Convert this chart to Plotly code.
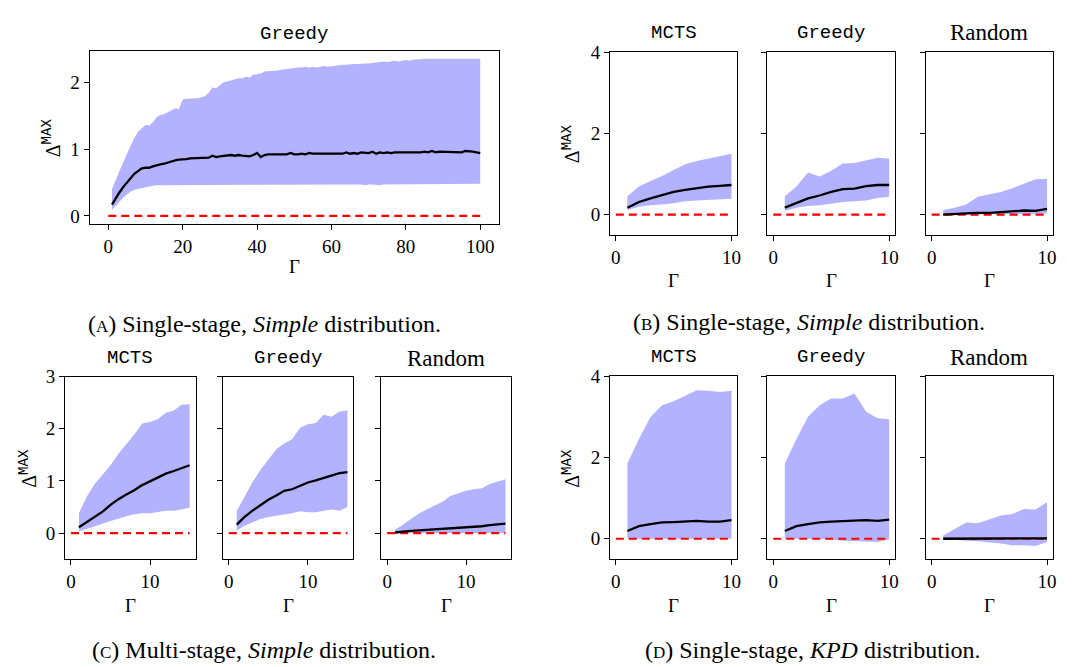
import plotly.graph_objects as go

W, H = 1081, 667

# ---------------- data ----------------
# Panel A: single-stage, Simple distribution, Greedy, Gamma = 1..100
A_gamma = list(range(1, 101))
A_mean = [0.17, 0.27, 0.35, 0.43, 0.50, 0.57, 0.63, 0.67, 0.71, 0.72,
          0.72, 0.74, 0.76, 0.77, 0.78, 0.80, 0.81, 0.83, 0.84, 0.84,
          0.85, 0.86, 0.86, 0.86, 0.87, 0.86, 0.87, 0.90, 0.88, 0.89,
          0.90, 0.91, 0.91, 0.90, 0.91, 0.90, 0.90, 0.89, 0.91, 0.94,
          0.88, 0.91, 0.92, 0.92, 0.91, 0.92, 0.92, 0.92, 0.94, 0.92,
          0.92, 0.93, 0.92, 0.94, 0.93, 0.93, 0.94, 0.93, 0.94, 0.93,
          0.93, 0.94, 0.93, 0.95, 0.93, 0.94, 0.93, 0.95, 0.94, 0.94,
          0.96, 0.93, 0.95, 0.94, 0.95, 0.94, 0.95, 0.95, 0.94, 0.95,
          0.95, 0.94, 0.95, 0.95, 0.96, 0.95, 0.97, 0.95, 0.96, 0.96,
          0.95, 0.96, 0.95, 0.96, 0.95, 0.97, 0.97, 0.96, 0.95, 0.94]
A_upper = [0.40, 0.55, 0.67, 0.80, 0.93, 1.05, 1.16, 1.26, 1.31, 1.36,
           1.35, 1.40, 1.48, 1.51, 1.52, 1.55, 1.58, 1.61, 1.60, 1.74,
           1.75, 1.75, 1.76, 1.76, 1.77, 1.79, 1.84, 1.92, 1.91, 1.96,
           2.00, 2.01, 2.03, 2.05, 2.06, 2.06, 2.08, 2.07, 2.11, 2.12,
           2.13, 2.16, 2.16, 2.17, 2.17, 2.18, 2.19, 2.20, 2.21, 2.21,
           2.22, 2.22, 2.23, 2.22, 2.23, 2.22, 2.23, 2.24, 2.23, 2.24,
           2.24, 2.25, 2.26, 2.26, 2.27, 2.27, 2.27, 2.28, 2.28, 2.28,
           2.29, 2.29, 2.30, 2.31, 2.30, 2.31, 2.32, 2.31, 2.32, 2.33,
           2.32, 2.34, 2.34, 2.35, 2.35, 2.35, 2.35, 2.35, 2.35, 2.35,
           2.35, 2.35, 2.35, 2.35, 2.35, 2.35, 2.35, 2.35, 2.35, 2.35]
A_lower = [0.09, 0.15, 0.21, 0.27, 0.32, 0.36, 0.39, 0.41, 0.42, 0.43,
           0.44, 0.45, 0.46, 0.46, 0.46, 0.47, 0.46, 0.46, 0.47, 0.46,
           0.47, 0.47, 0.46, 0.47, 0.47, 0.46, 0.47, 0.47, 0.46, 0.47,
           0.47, 0.46, 0.47, 0.46, 0.47, 0.47, 0.46, 0.47, 0.47, 0.46,
           0.47, 0.47, 0.46, 0.47, 0.46, 0.47, 0.47, 0.46, 0.47, 0.47,
           0.46, 0.47, 0.47, 0.46, 0.47, 0.47, 0.47, 0.46, 0.47, 0.47,
           0.46, 0.47, 0.47, 0.47, 0.46, 0.47, 0.47, 0.47, 0.46, 0.47,
           0.47, 0.47, 0.46, 0.47, 0.47, 0.48, 0.47, 0.47, 0.47, 0.48,
           0.47, 0.47, 0.48, 0.47, 0.47, 0.48, 0.47, 0.48, 0.47, 0.48,
           0.48, 0.47, 0.48, 0.48, 0.47, 0.48, 0.48, 0.48, 0.48, 0.48]
A_zero_x = [0, 100]

# Panel B: single-stage, Simple distribution, Gamma = 1..10
B_gamma = [1, 2, 3, 4, 5, 6, 7, 8, 9, 10]
B_mcts_mean = [0.17, 0.31, 0.40, 0.48, 0.56, 0.61, 0.65, 0.69, 0.71, 0.73]
B_mcts_upper = [0.45, 0.69, 0.83, 0.95, 1.10, 1.24, 1.32, 1.38, 1.44, 1.50]
B_mcts_lower = [0.11, 0.19, 0.23, 0.25, 0.28, 0.33, 0.35, 0.36, 0.38, 0.39]
B_greedy_mean = [0.17, 0.29, 0.40, 0.47, 0.56, 0.63, 0.64, 0.70, 0.73, 0.73]
B_greedy_upper = [0.45, 0.69, 1.04, 0.94, 1.08, 1.26, 1.27, 1.34, 1.40, 1.38]
B_greedy_lower = [0.09, 0.17, 0.21, 0.23, 0.27, 0.31, 0.33, 0.35, 0.41, 0.44]
B_random_mean = [0.00, 0.02, 0.03, 0.04, 0.04, 0.06, 0.08, 0.10, 0.09, 0.14]
B_random_upper = [0.11, 0.17, 0.25, 0.44, 0.50, 0.56, 0.65, 0.76, 0.87, 0.88]
B_random_lower = [0.00, 0.00, 0.00, 0.01, 0.01, 0.01, 0.02, 0.02, 0.02, 0.03]
B_zero_x = [0, 10]

# Panel C: multi-stage, Simple distribution, Gamma = 1..15
C_gamma = [1, 2, 3, 4, 5, 6, 7, 8, 9, 10, 11, 12, 13, 14, 15]
C_mcts_mean = [0.11, 0.21, 0.32, 0.41, 0.54, 0.65, 0.74, 0.82, 0.92, 0.99,
               1.06, 1.14, 1.19, 1.25, 1.30]
C_mcts_upper = [0.38, 0.70, 0.94, 1.11, 1.30, 1.52, 1.70, 1.89, 2.10, 2.13,
                2.19, 2.31, 2.35, 2.46, 2.47]
C_mcts_lower = [0.03, 0.09, 0.13, 0.18, 0.23, 0.28, 0.32, 0.36, 0.38, 0.38,
                0.40, 0.43, 0.43, 0.45, 0.49]
C_greedy_mean = [0.16, 0.31, 0.43, 0.54, 0.64, 0.72, 0.81, 0.84, 0.91, 0.97,
                 1.01, 1.06, 1.11, 1.15, 1.17]
C_greedy_upper = [0.42, 0.70, 0.98, 1.21, 1.42, 1.61, 1.72, 1.80, 2.02, 2.09,
                  2.11, 2.27, 2.23, 2.33, 2.35]
C_greedy_lower = [0.05, 0.14, 0.21, 0.27, 0.31, 0.33, 0.36, 0.38, 0.42, 0.40,
                  0.40, 0.43, 0.45, 0.43, 0.50]
C_random_mean = [0.01, 0.03, 0.04, 0.05, 0.06, 0.06, 0.07, 0.08, 0.10, 0.11,
                 0.12, 0.13, 0.15, 0.17, 0.18]
C_random_upper = [0.07, 0.16, 0.27, 0.37, 0.45, 0.53, 0.60, 0.71, 0.76, 0.81,
                  0.84, 0.86, 0.94, 0.98, 1.03]
C_random_lower = [0.00, 0.00, 0.00, 0.00, 0.00, 0.00, 0.00, 0.00, 0.00, 0.00,
                  0.00, 0.00, 0.00, 0.00, 0.00]
C_zero_x = [0, 15]

# Panel D: single-stage, KPD distribution, Gamma = 1..10
D_gamma = [1, 2, 3, 4, 5, 6, 7, 8, 9, 10]
D_mcts_mean = [0.19, 0.31, 0.36, 0.40, 0.41, 0.42, 0.44, 0.42, 0.42, 0.46]
D_mcts_upper = [1.85, 2.45, 2.99, 3.28, 3.38, 3.52, 3.65, 3.64, 3.61, 3.64]
D_mcts_lower = [0.00, 0.00, 0.00, 0.00, 0.00, 0.00, 0.00, 0.00, 0.00, 0.00]
D_greedy_mean = [0.19, 0.31, 0.36, 0.40, 0.42, 0.43, 0.45, 0.46, 0.44, 0.47]
D_greedy_upper = [1.85, 2.45, 3.00, 3.28, 3.45, 3.45, 3.57, 3.13, 2.96, 2.94]
D_greedy_lower = [0.00, 0.00, 0.00, 0.00, -0.02, -0.05, -0.06, -0.07, -0.08, -0.02]
D_random_mean = [0.00, 0.00, 0.00, 0.00, 0.00, 0.00, 0.00, 0.00, 0.00, 0.01]
D_random_upper = [0.08, 0.25, 0.40, 0.38, 0.47, 0.57, 0.61, 0.73, 0.72, 0.90]
D_random_lower = [0.00, -0.03, -0.05, -0.06, -0.09, -0.12, -0.16, -0.16, -0.18, -0.08]
D_zero_x = [0, 10]

# ---------------- styling ----------------
BAND = "rgba(0,0,255,0.3)"
SERIF = "Liberation Serif"
MONO = "Liberation Mono"
TICKFONT = dict(family=SERIF, size=19, color="black")

fig = go.Figure()
layout = {}
annotations = []


def xd(l, r):
    return [l / W, r / W]


def yd(top, bottom):
    return [1 - bottom / H, 1 - top / H]


def add_panel(idx, gamma, mean, upper, lower, zero_x, xdom, ydom,
              xrange, yrange, xticks, yticks, show_ylabels):
    xa = "x" if idx == 1 else f"x{idx}"
    ya = "y" if idx == 1 else f"y{idx}"
    fig.add_trace(go.Scatter(
        x=list(gamma) + list(gamma)[::-1],
        y=list(upper) + list(lower)[::-1],
        fill="toself", fillcolor=BAND, line=dict(width=0),
        mode="lines", hoverinfo="skip", showlegend=False,
        xaxis=xa, yaxis=ya))
    fig.add_trace(go.Scatter(
        x=zero_x, y=[0, 0], mode="lines",
        line=dict(color="red", width=2.2, dash="8px,5px"),
        showlegend=False, xaxis=xa, yaxis=ya))
    fig.add_trace(go.Scatter(
        x=gamma, y=mean, mode="lines",
        line=dict(color="black", width=2.3),
        showlegend=False, xaxis=xa, yaxis=ya))
    common = dict(showline=True, mirror=True, linecolor="black", linewidth=1.1,
                  ticks="outside", ticklen=5, tickwidth=1.1, tickcolor="black",
                  showgrid=False, zeroline=False, tickfont=TICKFONT,
                  fixedrange=True)
    layout["xaxis" if idx == 1 else f"xaxis{idx}"] = dict(
        domain=xdom, range=xrange, tickmode="array", tickvals=xticks,
        anchor=ya, **common)
    layout["yaxis" if idx == 1 else f"yaxis{idx}"] = dict(
        domain=ydom, range=yrange, tickmode="array", tickvals=yticks,
        anchor=xa, showticklabels=show_ylabels, **common)


def text(x, y, s, size, family=SERIF, angle=0):
    annotations.append(dict(
        x=x / W, y=1 - y / H, xref="paper", yref="paper", text=s,
        showarrow=False, xanchor="center", yanchor="middle",
        textangle=angle, font=dict(family=family, size=size, color="black")))


# panel rows / columns in pixels
BX = [(612.3, 740), (770.3, 898.3), (929.3, 1056.7)]
CX = [(65.3, 196.3), (223.7, 354.7), (382.7, 513.3)]

# Panel A
add_panel(1, A_gamma, A_mean, A_upper, A_lower, A_zero_x,
          xd(90, 500.7), yd(41.7, 218), [-5, 105], [-0.1175, 2.4675],
          [0, 20, 40, 60, 80, 100], [0, 1, 2], True)

B_sets = [(B_mcts_mean, B_mcts_upper, B_mcts_lower),
          (B_greedy_mean, B_greedy_upper, B_greedy_lower),
          (B_random_mean, B_random_upper, B_random_lower)]
C_sets = [(C_mcts_mean, C_mcts_upper, C_mcts_lower),
          (C_greedy_mean, C_greedy_upper, C_greedy_lower),
          (C_random_mean, C_random_upper, C_random_lower)]
D_sets = [(D_mcts_mean, D_mcts_upper, D_mcts_lower),
          (D_greedy_mean, D_greedy_upper, D_greedy_lower),
          (D_random_mean, D_random_upper, D_random_lower)]

idx = 2
for k, (m, u, l) in enumerate(B_sets):
    add_panel(idx, B_gamma, m, u, l, B_zero_x, xd(*BX[k]), yd(43.3, 229.3),
              [-0.5, 10.5], [-0.5, 4], [0, 10], [0, 2, 4], k == 0)
    idx += 1
for k, (m, u, l) in enumerate(C_sets):
    add_panel(idx, C_gamma, m, u, l, C_zero_x, xd(*CX[k]), yd(374, 560),
              [-0.75, 15.75], [-0.5, 3], [0, 10], [0, 1, 2, 3], k == 0)
    idx += 1
for k, (m, u, l) in enumerate(D_sets):
    add_panel(idx, D_gamma, m, u, l, D_zero_x, xd(*BX[k]), yd(373.3, 560),
              [-0.5, 10.5], [-0.5, 4], [0, 10], [0, 2, 4], k == 0)
    idx += 1

# subplot titles
TITLE_MONO = 19
TITLE_SERIF = 23
titles = [("MCTS", MONO, TITLE_MONO), ("Greedy", MONO, TITLE_MONO),
          ("Random", SERIF, TITLE_SERIF)]
text(295.3, 24, "Greedy", TITLE_MONO, MONO)
for k, (t, fam, sz) in enumerate(titles):
    text((BX[k][0] + BX[k][1]) / 2, 23, t, sz, fam)
    text((CX[k][0] + CX[k][1]) / 2, 355, t, sz, fam)
    text((BX[k][0] + BX[k][1]) / 2, 354, t, sz, fam)

# x-axis labels (Gamma)
text(295.3, 262, "Γ", 19)
for k in range(3):
    text((BX[k][0] + BX[k][1]) / 2, 276, "Γ", 19)
    text((CX[k][0] + CX[k][1]) / 2, 607, "Γ", 19)
    text((BX[k][0] + BX[k][1]) / 2, 607, "Γ", 19)

# y-axis labels
ylab = "Δ<sup><span style='font-family:Liberation Mono'>MAX</span></sup>"
text(52, 130, ylab, 20, SERIF, -90)
text(573, 136, ylab, 20, SERIF, -90)
text(28, 467, ylab, 20, SERIF, -90)
text(573, 467, ylab, 20, SERIF, -90)

# captions
def cap(letter, rest_a, ital, rest_b):
    return ("(<span style='font-size:17px'>" + letter + "</span>) " + rest_a +
            "<i>" + ital + "</i>" + rest_b)

text(265, 320, cap("A", "Single-stage, ", "Simple", " distribution."), 24)
text(812, 318, cap("B", "Single-stage, ", "Simple", " distribution."), 24)
text(265, 653, cap("C", "Multi-stage, ", "Simple", " distribution."), 24)
text(816, 653, cap("D", "Single-stage, ", "KPD", " distribution."), 24)

fig.update_layout(
    width=W, height=H, margin=dict(l=0, r=0, t=0, b=0),
    paper_bgcolor="white", plot_bgcolor="white",
    showlegend=False, annotations=annotations, **layout)

fig.write_html("out.html")
